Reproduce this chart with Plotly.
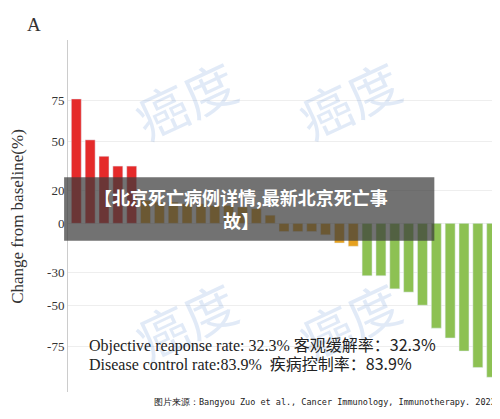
import plotly.graph_objects as go

values = [76, 51, 41, 35, 35,
          14, 13, 13, 12, 12, 11, 11, 10, 9, 5, -5, -5, -5, -7, -12, -14,
          -32, -32, -40, -42, -50, -64, -70, -78, -88, -94]
colors_by_group = {"PD": "#e52a2a", "SD": "#e6a11f", "PR": "#8dc153"}
groups = ["PD"] * 5 + ["SD"] * 16 + ["PR"] * 10
tick_vals = [75, 50, 20, 0, -30, -50, -75]
tick_text = ["75", "50", "20", "0", "-30", "-50", "-75"]

fig = go.Figure(go.Bar(x=list(range(len(values))), y=values,
                       marker_color=[colors_by_group[g] for g in groups],
                       width=0.72))
fig.update_layout(
    width=492, height=411, margin=dict(l=60, r=0, t=32, b=27),
    paper_bgcolor="white", plot_bgcolor="white", showlegend=False,
    font=dict(family="Liberation Serif", color="#333"),
    xaxis=dict(range=[-0.6, 30.6], showticklabels=False, showgrid=False, zeroline=False),
    yaxis=dict(range=[-103, 112], tickvals=tick_vals, ticktext=tick_text,
               showgrid=True, gridcolor="#eeeeee", zeroline=False,
               showline=True, linecolor="#cccccc", ticks="",
               tickfont=dict(size=13, family="Liberation Serif", color="#333")),
)
# watermarks
for (x, y) in [(0.12, 1.0), (0.65, 1.0), (0.12, 0.04), (0.65, 0.04)]:
    fig.add_annotation(xref="paper", yref="paper", x=x, y=y, text="癌度", showarrow=False,
                       textangle=-25, font=dict(size=52, color="rgba(120,160,220,0.22)",
                       family="Noto Sans CJK SC"))
fig.add_annotation(xref="paper", yref="paper", x=-0.145, y=0.5, text="Change from baseline(%)",
                   textangle=-90, showarrow=False, font=dict(size=17, color="#333"))
fig.add_annotation(xref="paper", yref="paper", x=-0.1, y=1.08, xanchor="left",
                   text="A", showarrow=False, font=dict(size=19, color="#333"))
fig.add_annotation(xref="paper", yref="paper", x=0.045, y=0.098, xanchor="left",
                   text="Objective reaponse rate: 32.3% <span style='font-family:Noto Sans CJK SC'>客观缓解率：32.3%</span>",
                   showarrow=False, font=dict(size=16, color="#222"))
fig.add_annotation(xref="paper", yref="paper", x=0.045, y=0.042, xanchor="left",
                   text="Disease control rate:83.9%  <span style='font-family:Noto Sans CJK SC'>疾病控制率：83.9%</span>",
                   showarrow=False, font=dict(size=16, color="#222"))
fig.add_shape(type="rect", xref="paper", yref="paper", x0=-0.009, x1=0.848, y0=0.43, y1=0.61,
              fillcolor="rgba(60,60,60,0.72)", line_width=0)
fig.add_annotation(xref="paper", yref="paper", x=0.40, y=0.52,
                   text="<b>【北京死亡病例详情,最新北京死亡事<br>故】</b>", showarrow=False,
                   font=dict(size=18, color="white", family="Noto Sans CJK SC"))
fig.add_annotation(xref="paper", yref="paper", x=0.995, y=-0.028, xanchor="right", yanchor="middle",
                   text="图片来源：Bangyou Zuo et al., Cancer Immunology, Immunotherapy. 2022",
                   showarrow=False, font=dict(size=8.5, color="#222", family="DejaVu Sans Mono"))
fig.write_html("out.html")
